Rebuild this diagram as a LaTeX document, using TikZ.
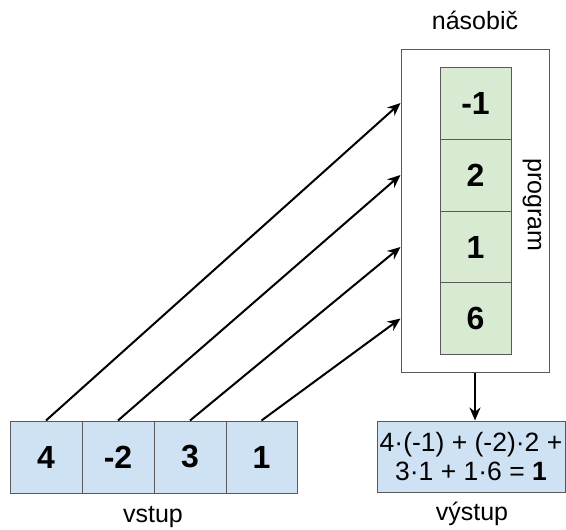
\documentclass[tikz,border=0pt]{standalone}
\usepackage{fontspec}
\setmainfont{Liberation Sans}
\usetikzlibrary{arrows.meta}
\definecolor{inblue}{HTML}{CFE2F3}
\definecolor{prggreen}{HTML}{D9EAD3}
\definecolor{edgegray}{HTML}{595959}
\begin{document}
\begin{tikzpicture}[x=1pt,y=-1pt,
  cellbox/.style={draw=edgegray,line width=1pt,inner sep=0pt,minimum width=72pt,minimum height=72pt,font=\fontsize{32}{35}\selectfont\bfseries},
  incell/.style={cellbox,fill=inblue},
  prgcell/.style={cellbox,fill=prggreen,minimum width=71pt},
  lbl/.style={inner sep=0pt,font=\fontsize{25}{28}\selectfont},
  arr/.style={line width=2pt,-{Stealth[length=13pt,width=11pt]}}]
\useasboundingbox (0,0) rectangle (566,530);
\node[draw=edgegray,line width=1pt,fill=white,minimum width=148pt,minimum height=323pt,inner sep=0pt] (big) at (475,210.5) {};
\node[prgcell] (p1) at (475.5,103) {-1};
\node[prgcell] (p2) at (475.5,175) {2};
\node[prgcell] (p3) at (475.5,247) {1};
\node[prgcell] (p4) at (475.5,318.5) {6};
\node[lbl] (nasobic) at (475,20) {násobič};
\node[lbl,rotate=-90] (program) at (532,205) {program};
\node[incell] (v1) at (46,457) {4};
\node[incell] (v2) at (118,457) {-2};
\node[incell] (v3) at (190,457) {3};
\node[incell,minimum width=71pt] (v4) at (261.5,457) {1};
\node[draw=edgegray,line width=1pt,fill=inblue,minimum width=188pt,minimum height=71pt,inner sep=0pt,align=center,font=\fontsize{26.5}{29}\selectfont] (out) at (471,456.5) {4·(-1) + (-2)·2 +\\3·1 + 1·6 = \textbf{1}};
\node[lbl] (vstup) at (153,517) {vstup};
\node[lbl] (vystup) at (472,514) {výstup};
\draw[arr] (v1.north) -- (big.west |- p1);
\draw[arr] (v2.north) -- (big.west |- p2);
\draw[arr] (v3.north) -- (big.west |- p3);
\draw[arr] (v4.north) -- (big.west |- p4);
\draw[arr] (big.south) -- (big.south |- out.north);
\end{tikzpicture}
\end{document}
